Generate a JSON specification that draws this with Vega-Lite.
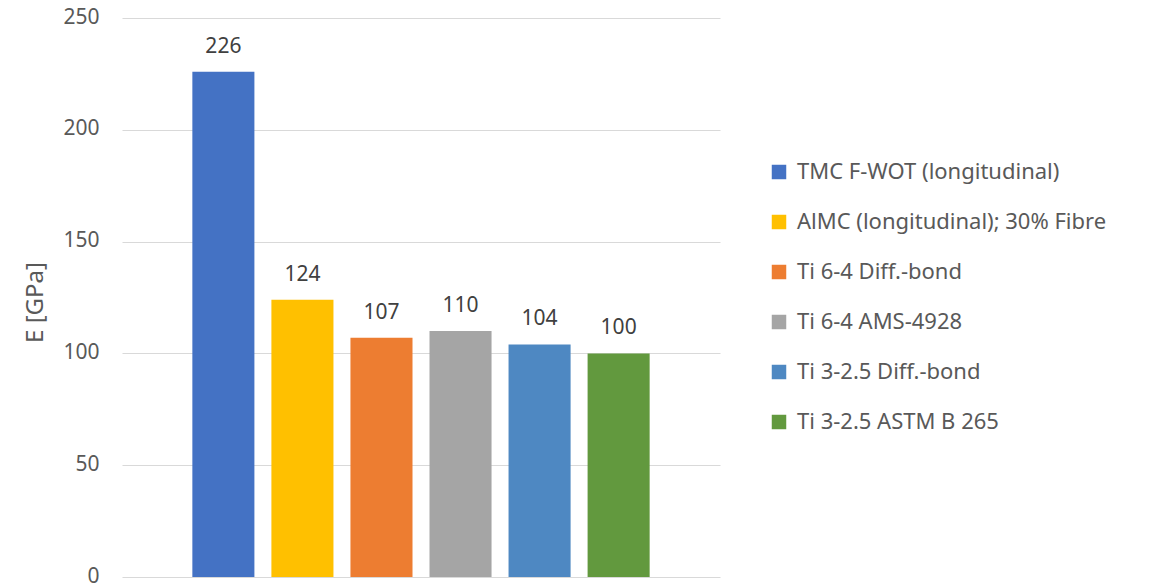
{
  "$schema": "https://vega.github.io/schema/vega-lite/v6.json",
  "autosize": "none",
  "width": 598,
  "height": 559,
  "padding": {"left": 122, "top": 18, "right": 433, "bottom": 9},
  "background": "white",
  "config": {
    "font": "Noto Sans",
    "view": {"stroke": null}
  },
  "data": {
    "values": [
      {"material": "TMC F-WOT (longitudinal)", "E": 226},
      {"material": "AlMC (longitudinal); 30% Fibre", "E": 124},
      {"material": "Ti 6-4 Diff.-bond", "E": 107},
      {"material": "Ti 6-4 AMS-4928", "E": 110},
      {"material": "Ti 3-2.5 Diff.-bond", "E": 104},
      {"material": "Ti 3-2.5 ASTM B 265", "E": 100}
    ]
  },
  "encoding": {
    "x": {
      "field": "material",
      "type": "nominal",
      "sort": null,
      "scale": {"paddingInner": 0.215, "paddingOuter": 0.89},
      "axis": null
    },
    "y": {
      "field": "E",
      "type": "quantitative",
      "scale": {"domain": [0, 250], "nice": false},
      "axis": {
        "title": "E [GPa]",
        "values": [0, 50, 100, 150, 200, 250],
        "domain": false,
        "ticks": false,
        "labelPadding": 23,
        "labelFontSize": 21,
        "labelOffset": -1,
        "labelColor": "#595959",
        "gridColor": "#d9d9d9",
        "gridWidth": 1,
        "titleFontSize": 24,
        "titleFontWeight": "normal",
        "titleColor": "#595959",
        "titleAngle": -90,
        "titleX": -87,
        "titleY": 284,
        "titleAlign": "center",
        "titleBaseline": "middle"
      }
    }
  },
  "layer": [
    {
      "mark": {"type": "bar"},
      "encoding": {
        "color": {
          "field": "material",
          "type": "nominal",
          "sort": null,
          "scale": {
            "domain": ["TMC F-WOT (longitudinal)", "AlMC (longitudinal); 30% Fibre", "Ti 6-4 Diff.-bond", "Ti 6-4 AMS-4928", "Ti 3-2.5 Diff.-bond", "Ti 3-2.5 ASTM B 265"],
            "range": ["#4472c4", "#ffc000", "#ed7d31", "#a5a5a5", "#4e88c2", "#62993e"]
          },
          "legend": {
            "title": null,
            "orient": "none",
            "legendX": 646,
            "legendY": 143,
            "symbolType": "square",
            "symbolSize": 210,
            "symbolStrokeWidth": 0,
            "labelFontSize": 22,
            "labelColor": "#595959",
            "labelOffset": 7,
            "rowPadding": 28,
            "labelLimit": 420
          }
        }
      }
    },
    {
      "mark": {"type": "text", "baseline": "alphabetic", "dy": -19, "fontSize": 21, "color": "#404040"},
      "encoding": {
        "text": {"field": "E", "type": "quantitative"}
      }
    }
  ]
}
